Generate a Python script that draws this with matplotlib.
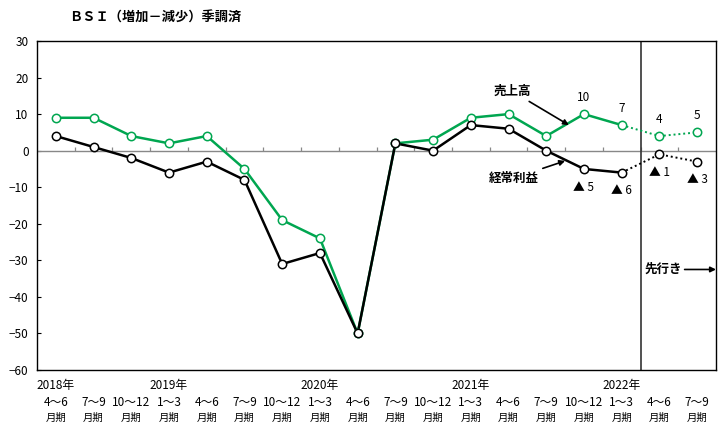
import matplotlib
matplotlib.use('Agg')
import matplotlib.pyplot as plt
import numpy as np

plt.rcParams['font.family'] = ['Noto Sans CJK JP', 'DejaVu Sans']

GREEN = '#00a650'

years = ['2018年', '', '', '2019年', '', '', '', '2020年', '', '', '', '2021年', '', '', '', '2022年', '', '']
quarters = ['4～6', '7～9', '10～12', '1～3', '4～6', '7～9', '10～12', '1～3', '4～6',
            '7～9', '10～12', '1～3', '4～6', '7～9', '10～12', '1～3', '4～6', '7～9']
sales = [9, 9, 4, 2, 4, -5, -19, -24, -50, 2, 3, 9, 10, 4, 10, 7, 4, 5]
profit = [4, 1, -2, -6, -3, -8, -31, -28, -50, 2, 0, 7, 6, 0, -5, -6, -1, -3]
n_actual = 16  # last two are forecasts

sales_labels = {14: '10', 15: '7', 16: '4', 17: '5'}
profit_labels = {14: '▲ 5', 15: '▲ 6', 16: '▲ 1', 17: '▲ 3'}

fig = plt.figure(figsize=(7.22, 4.23), dpi=100)
ax = fig.add_axes([37 / 722, 1 - 370 / 423, 679 / 722, 329 / 423])

x = np.arange(len(quarters))

def draw_series(values, color):
    ax.plot(x[:n_actual], values[:n_actual], color=color, lw=1.8, zorder=3)
    ax.plot(x[n_actual - 1:], values[n_actual - 1:], color=color, lw=1.4, ls=(0, (1, 1.5)), zorder=3)
    ax.plot(x, values, ls='none', marker='o', ms=6, mfc='white', mec=color, mew=1.1, zorder=4)

draw_series(sales, GREEN)
draw_series(profit, 'black')

ax.set_xlim(-0.5, len(quarters) - 0.5)
ax.set_ylim(-60, 30)
ax.set_yticks(range(-60, 31, 10))
ax.set_yticklabels([str(v).replace('-', '−') for v in range(-60, 31, 10)], fontsize=8.5)
ax.tick_params(axis='y', direction='in', length=3, width=0.8, pad=6)
ax.set_xticks([])

for s in ax.spines.values():
    s.set_linewidth(1.0)

# zero line with category ticks
ax.axhline(0, color='#888888', lw=1.0, zorder=2)
bounds = x[:-1] + 0.5
ax.vlines(bounds, 0, 1.1, color='#888888', lw=0.9, zorder=2)
# forecast divider
ax.axvline(n_actual - 0.5, color='#333333', lw=1.2, zorder=2)

# x labels
for i in x:
    if years[i]:
        ax.text(i, -64.2, years[i], ha='center', va='center', fontsize=8.5)
    ax.text(i, -68.8, quarters[i], ha='center', va='center', fontsize=8.5)
    ax.text(i, -73.2, '月期', ha='center', va='center', fontsize=7.5)

# value labels
for i, t in sales_labels.items():
    ax.text(i, sales[i] + 4.5, t, ha='center', va='center', fontsize=8.5)
for i, t in profit_labels.items():
    ax.text(i, profit[i] - 5.0, t, ha='center', va='center', fontsize=8.5)

# series annotations
ax.annotate('売上高', xy=(13.6, 7.0), xytext=(12.6, 16.2), fontsize=9, fontweight='bold',
            ha='right', va='center',
            arrowprops=dict(arrowstyle='-|>', color='black', lw=1.2, mutation_scale=8, shrinkA=1, shrinkB=0))
ax.annotate('経常利益', xy=(13.5, -2.8), xytext=(12.8, -7.5), fontsize=9, fontweight='bold',
            ha='right', va='center',
            arrowprops=dict(arrowstyle='-|>', color='black', lw=1.2, mutation_scale=8, shrinkA=1, shrinkB=0))
ax.annotate('先行き', xy=(17.5, -32.5), xytext=(15.6, -32.5), fontsize=9, fontweight='bold',
            ha='left', va='center',
            arrowprops=dict(arrowstyle='-|>', color='black', lw=1.2, mutation_scale=8, shrinkA=0, shrinkB=0))

fig.text(155 / 722, 1 - 18 / 423, 'ＢＳＩ（増加－減少）季調済', ha='center', va='center',
         fontsize=9.5, fontweight='bold')

fig.savefig('out.png', dpi=100)
